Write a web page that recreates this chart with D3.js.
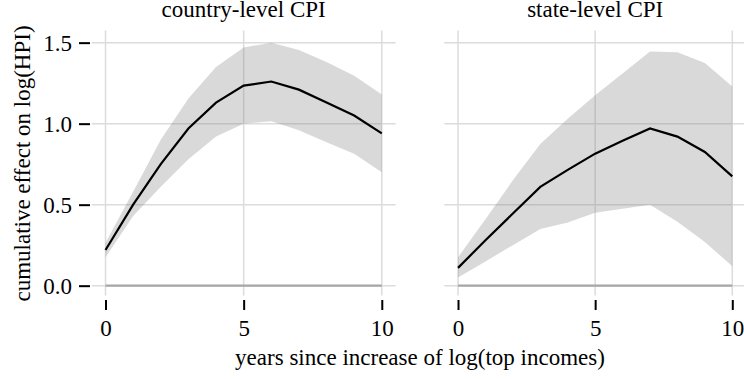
<!DOCTYPE html>
<html>
<head>
<meta charset="utf-8">
<script src="https://cdn.jsdelivr.net/npm/d3@7"></script>
</head>
<body style="margin:0">
<svg id="chart" width="744" height="379"></svg>
<script>
// horizon in years after the shock
const years = [0, 1, 2, 3, 4, 5, 6, 7, 8, 9, 10];

// country-level CPI: point estimate and confidence band
const countryMean = [0.22, 0.50, 0.75, 0.97, 1.13, 1.235, 1.26, 1.21, 1.13, 1.05, 0.94];
const countryLow  = [0.175, 0.43, 0.61, 0.78, 0.92, 1.00, 1.015, 0.96, 0.885, 0.815, 0.70];
const countryHigh = [0.265, 0.58, 0.90, 1.155, 1.35, 1.47, 1.50, 1.455, 1.38, 1.295, 1.18];

// state-level CPI
const stateMean = [0.11, 0.28, 0.445, 0.61, 0.715, 0.815, 0.895, 0.97, 0.92, 0.825, 0.675];
const stateLow  = [0.05, 0.15, 0.25, 0.35, 0.39, 0.45, 0.475, 0.50, 0.395, 0.27, 0.12];
const stateHigh = [0.175, 0.41, 0.65, 0.875, 1.03, 1.175, 1.31, 1.445, 1.44, 1.375, 1.23];

const panelTitles = ["country-level CPI", "state-level CPI"];
const xTicks = [0, 5, 10];
const yTicks = [0, 0.5, 1.0, 1.5];

const fontFamily = "'Liberation Serif'";
const fontSize = "23px";
let svg = d3.select("#chart");

let y = d3.scaleLinear().domain([-0.06, 1.575]).range([295.4, 30.5]);

let panels = [
    {title: panelTitles[0], mean: countryMean, low: countryLow, high: countryHigh, range: [91.7, 395.6], yaxis: true},
    {title: panelTitles[1], mean: stateMean, low: stateLow, high: stateHigh, range: [444.3, 746], yaxis: false}
];

function serif(sel){
    sel.style("font-family", fontFamily).style("font-size", fontSize).style("fill", "#000");
}

panels.forEach(function(p){
    let x = d3.scaleLinear().domain([-0.5, 10.5]).range(p.range);
    let g = svg.append("g");

    //grid
    g.selectAll(".hgrid").data(yTicks).enter().append("line")
        .attr("x1", p.range[0]).attr("x2", p.range[1])
        .attr("y1", d => y(d)).attr("y2", d => y(d))
        .attr("stroke", "#dcdcdc").attr("stroke-width", 1.5);
    g.selectAll(".vgrid").data(xTicks).enter().append("line")
        .attr("x1", d => x(d)).attr("x2", d => x(d))
        .attr("y1", y.range()[1]).attr("y2", y.range()[0])
        .attr("stroke", "#dcdcdc").attr("stroke-width", 1.5);

    //confidence band
    let area = d3.area()
        .x((d, i) => x(years[i]))
        .y0((d, i) => y(p.low[i]))
        .y1((d, i) => y(p.high[i]));
    g.append("path").datum(years)
        .attr("d", area)
        .attr("fill", "#808080")
        .attr("fill-opacity", 0.3);

    //zero line
    g.append("line")
        .attr("x1", x(years[0])).attr("x2", x(years[years.length-1]))
        .attr("y1", y(0)).attr("y2", y(0))
        .attr("stroke", "#a6a6a6").attr("stroke-width", 2.2);

    //point estimate
    let line = d3.line()
        .x((d, i) => x(years[i]))
        .y((d, i) => y(p.mean[i]));
    g.append("path").datum(years)
        .attr("d", line)
        .attr("fill", "none")
        .attr("stroke", "#000")
        .attr("stroke-width", 2.2);

    //x axis
    let xAxis = g.append("g")
        .attr("transform", "translate(0,300)")
        .call(d3.axisBottom(x).tickValues(xTicks).tickSize(10).tickPadding(10).tickFormat(d3.format("d")));
    xAxis.attr("font-family", null).attr("font-size", null);
    xAxis.select(".domain").remove();
    xAxis.selectAll("line").attr("stroke", "#000").attr("stroke-width", 2);
    xAxis.selectAll("text").call(serif);

    if(p.yaxis){
        let yAxis = g.append("g")
            .attr("transform", "translate(90,0)")
            .call(d3.axisLeft(y).tickValues(yTicks).tickSize(11).tickPadding(7).tickFormat(d3.format(".1f")));
        yAxis.attr("font-family", null).attr("font-size", null);
        yAxis.select(".domain").remove();
        yAxis.selectAll("line").attr("stroke", "#000").attr("stroke-width", 2);
        yAxis.selectAll("text").call(serif);
    }

    //title
    svg.append("text")
        .attr("x", x(5))
        .attr("y", 16.5)
        .attr("text-anchor", "middle")
        .call(serif)
        .text(p.title);
});

//axis labels
svg.append("text")
    .attr("x", 420)
    .attr("y", 365)
    .attr("text-anchor", "middle")
    .call(serif)
    .text("years since increase of log(top incomes)");

svg.append("text")
    .attr("transform", "translate(30,163.5) rotate(-90)")
    .attr("text-anchor", "middle")
    .call(serif)
    .text("cumulative effect on log(HPI)");
</script>
</body>
</html>
